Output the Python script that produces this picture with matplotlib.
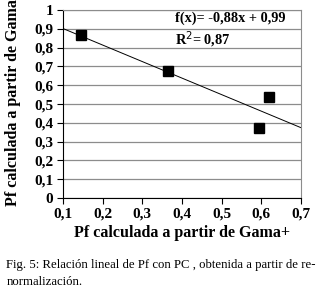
import numpy as np
import matplotlib.pyplot as plt

plt.rcParams['font.family'] = ['Liberation Serif', 'DejaVu Serif']

# data
x_vals = [0.145, 0.365, 0.595, 0.62]
y_vals = [0.87, 0.675, 0.37, 0.54]
slope, intercept = -0.88, 0.99
x_ticks = [0.1, 0.2, 0.3, 0.4, 0.5, 0.6, 0.7]
y_ticks = [0, 0.1, 0.2, 0.3, 0.4, 0.5, 0.6, 0.7, 0.8, 0.9, 1]

fig = plt.figure(figsize=(3.23, 2.89), dpi=100)
ax = fig.add_axes([0.195, 0.315, 0.737, 0.65])

ax.yaxis.grid(True, color='#8c8c8c', linewidth=0.9)
ax.set_axisbelow(True)

xl = np.array([0.1, 0.7])
ax.plot(xl, slope * xl + intercept, color='black', linewidth=0.7)
ax.plot(x_vals, y_vals, 's', color='black', markersize=7)

ax.set_xlim(0.1, 0.7)
ax.set_ylim(0, 1)
ax.set_xticks(x_ticks)
ax.set_yticks(y_ticks)
ax.set_xticklabels([f"{v:.1f}".replace('.', ',') for v in x_ticks], fontweight='bold', fontsize=11)
ax.set_yticklabels(['0', '0,1', '0,2', '0,3', '0,4', '0,5', '0,6', '0,7', '0,8', '0,9', '1'],
                   fontweight='bold', fontsize=11)
ax.tick_params(direction='out', length=4, width=0.8, pad=3)

for s in ['top', 'right']:
    ax.spines[s].set_color('#8c8c8c')
for s in ['left', 'bottom']:
    ax.spines[s].set_color('black')

ax.set_xlabel('Pf calculada a partir de Gama+', fontweight='bold', fontsize=11.5, labelpad=3)
ax.set_ylabel('Pf calculada a partir de Gama-', fontweight='bold', fontsize=11.5)
ax.yaxis.set_label_coords(-0.175, 0.52)

ax.text(0.47, 0.99, 'f(x)= -0,88x + 0,99', transform=ax.transAxes, fontweight='bold',
        fontsize=10.3, va='top')
ax.text(0.47, 0.895, 'R$^2$= 0,87', transform=ax.transAxes, fontweight='bold',
        fontsize=10.3, va='top')

fig.text(0.02, 0.083, 'Fig. 5: Relación lineal de Pf con PC , obtenida a partir de re-',
         fontsize=9.2, va='center')
fig.text(0.02, 0.024, 'normalización.', fontsize=9.2, va='center')

fig.savefig('out.png', dpi=100)
